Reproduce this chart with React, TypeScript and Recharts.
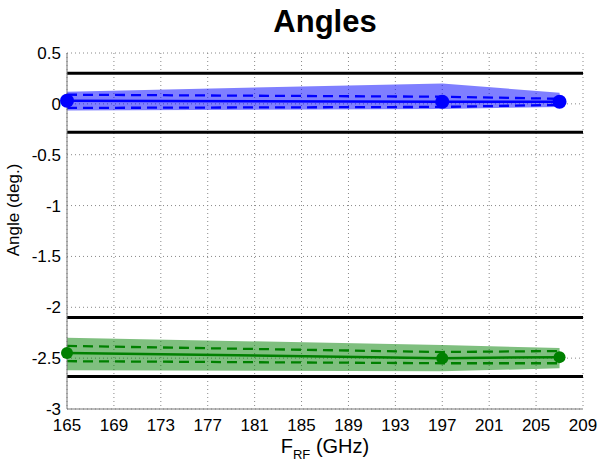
import React from "react"
import {
  ComposedChart,
  Area,
  Line,
  XAxis,
  YAxis,
  CartesianGrid,
  ReferenceLine,
} from "recharts"

const freqs = [165, 197, 207]
const xTicks = [165, 169, 173, 177, 181, 185, 189, 193, 197, 201, 205, 209]
const yTicks = [0.5, 0, -0.5, -1, -1.5, -2, -2.5, -3]

const blueMean = [0.03, 0.02, 0.02]
const blueUpper = [0.09, 0.07, 0.05]
const blueLower = [-0.04, -0.03, -0.01]
const blueBandHigh = [0.12, 0.2, 0.11]
const blueBandLow = [-0.065, -0.05, -0.03]

const greenMean = [-2.45, -2.5, -2.49]
const greenUpper = [-2.38, -2.44, -2.43]
const greenLower = [-2.53, -2.55, -2.55]
const greenBandHigh = [-2.3, -2.37, -2.4]
const greenBandLow = [-2.62, -2.63, -2.6]

const limits = [0.3, -0.28, -2.1, -2.68]

const data = freqs.map((f, i) => ({
  f,
  bMean: blueMean[i],
  bUp: blueUpper[i],
  bLo: blueLower[i],
  bBand: [blueBandLow[i], blueBandHigh[i]],
  gMean: greenMean[i],
  gUp: greenUpper[i],
  gLo: greenLower[i],
  gBand: [greenBandLow[i], greenBandHigh[i]],
}))

const font = "Arial, 'Liberation Sans', sans-serif"
const tick = { fill: "#000", fontSize: 17, fontFamily: font }

export default function App() {
  return (
    <div style={{ position: "absolute", left: 0, top: 0, width: 605, height: 462, background: "#fff", fontFamily: font, overflow: "hidden" }}>
      <div style={{ position: "absolute", left: 67, width: 516, top: 4, textAlign: "center", fontSize: 31, fontWeight: "bold" }}>
        Angles
      </div>
      <div
        style={{
          position: "absolute",
          left: 14,
          top: 210,
          transform: "translate(-50%, -50%) rotate(-90deg)",
          whiteSpace: "nowrap",
          fontSize: 17,
        }}
      >
        Angle (deg.)
      </div>
      <div style={{ position: "absolute", left: 67, width: 516, top: 436, textAlign: "center", fontSize: 20, lineHeight: "20px", whiteSpace: "nowrap" }}>
        F<span style={{ fontSize: 13, verticalAlign: -6 }}>RF</span> (GHz)
      </div>
      <ComposedChart
        width={605}
        height={462}
        data={data}
        margin={{ top: 53, right: 22, left: 0, bottom: 0 }}
      >
        <CartesianGrid xAxisId="b" yAxisId="l" stroke="#888" strokeDasharray="1 3" />
        <XAxis
          xAxisId="b"
          dataKey="f"
          type="number"
          domain={[165, 209]}
          ticks={xTicks}
          interval={0}
          height={53}
          tick={tick}
          tickLine={false}
          tickSize={0}
          axisLine={{ stroke: "#777" }}
          tickMargin={10}
        />
        <XAxis xAxisId="t" orientation="top" type="number" domain={[165, 209]} height={0} tick={false} tickLine={false} axisLine={{ stroke: "#777" }} />
        <YAxis
          yAxisId="l"
          type="number"
          domain={[-3, 0.5]}
          ticks={yTicks}
          interval={0}
          width={67}
          tick={tick}
          tickLine={false}
          tickSize={0}
          axisLine={{ stroke: "#777" }}
          tickMargin={6}
        />
        <YAxis yAxisId="r" orientation="right" type="number" domain={[-3, 0.5]} width={0} tick={false} tickLine={false} axisLine={{ stroke: "#777" }} />

        <Area xAxisId="b" yAxisId="l" dataKey="bBand" stroke="none" fill="#0000ff" fillOpacity={0.5} isAnimationActive={false} />
        <Area xAxisId="b" yAxisId="l" dataKey="gBand" stroke="none" fill="#008000" fillOpacity={0.5} isAnimationActive={false} />

        {limits.map((y) => (
          <ReferenceLine key={y} xAxisId="b" yAxisId="l" y={y} stroke="#000" strokeWidth={3} />
        ))}

        <Line xAxisId="b" yAxisId="l" dataKey="bUp" stroke="#0000ff" strokeWidth={2.3} strokeDasharray="10 6" dot={false} isAnimationActive={false} />
        <Line xAxisId="b" yAxisId="l" dataKey="bLo" stroke="#0000ff" strokeWidth={2.3} strokeDasharray="10 6" dot={false} isAnimationActive={false} />
        <Line xAxisId="b" yAxisId="l" dataKey="bMean" stroke="#0000ff" strokeWidth={2.5} dot={{ r: 7, fill: "#0000ff", stroke: "none" }} isAnimationActive={false} />

        <Line xAxisId="b" yAxisId="l" dataKey="gUp" stroke="#008000" strokeWidth={2.3} strokeDasharray="10 6" dot={false} isAnimationActive={false} />
        <Line xAxisId="b" yAxisId="l" dataKey="gLo" stroke="#008000" strokeWidth={2.3} strokeDasharray="10 6" dot={false} isAnimationActive={false} />
        <Line xAxisId="b" yAxisId="l" dataKey="gMean" stroke="#008000" strokeWidth={2.5} dot={{ r: 6, fill: "#008000", stroke: "none" }} isAnimationActive={false} />
      </ComposedChart>
    </div>
  )
}
